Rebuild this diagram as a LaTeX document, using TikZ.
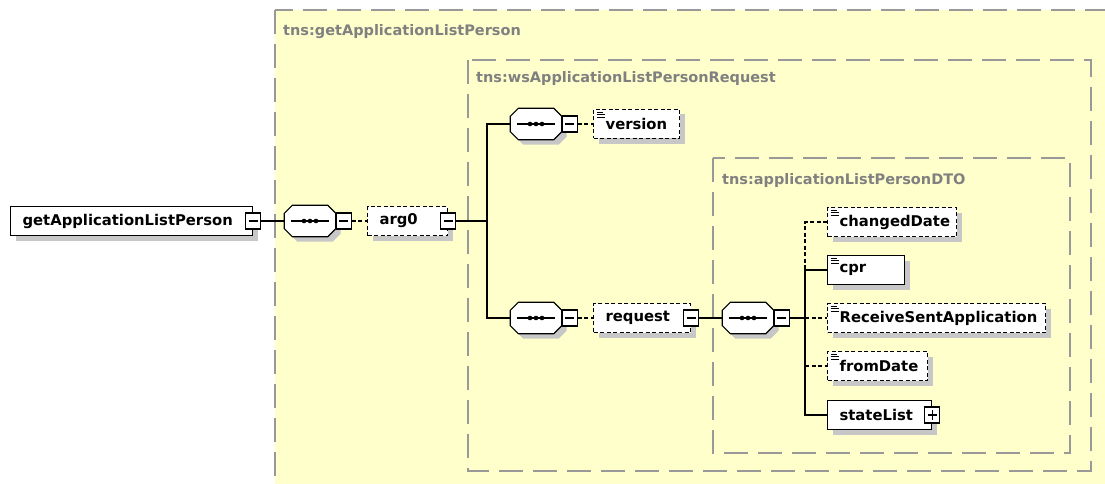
\documentclass[tikz,border=0pt]{standalone}
\usepackage{fontspec}
\newfontfamily\xsdfont{DejaVu Sans}
\usetikzlibrary{positioning,shadows}
\definecolor{xsdbg}{HTML}{FFFFCC}

\begin{document}
\begin{tikzpicture}[
		x=1pt, y=-1pt,
		font=\xsdfont\bfseries\fontsize{14.8}{17}\selectfont,
		conn/.style = {line width=1.2pt},
		opt/.style = {dash pattern=on 4pt off 2.5pt},
		group/.style = {draw=black!40, line width=1.5pt, dash pattern=on 24pt off 10pt},
		grouplabel/.style = {text=black!50, anchor=west, inner sep=0pt, font=\xsdfont\bfseries\fontsize{14.5}{17}\selectfont},
		castshadow/.style = {drop shadow={shadow xshift=5pt, shadow yshift=-5pt, fill=black!22, opacity=1}},
		elem/.style = {draw, fill=white, line width=1.2pt, castshadow, anchor=west,
			minimum height=29pt, inner xsep=12pt, inner ysep=0pt, align=left, text width=#1},
		leaf/.style = {elem=#1, path picture={
			\draw[solid, line width=.8pt] ([shift={(3pt,-2.5pt)}]path picture bounding box.north west) -- +(6pt,0pt);
			\draw[solid, line width=.8pt] ([shift={(3pt,-5pt)}]path picture bounding box.north west) -- +(8pt,0pt);
			\draw[solid, line width=.8pt] ([shift={(3pt,-7.5pt)}]path picture bounding box.north west) -- +(8pt,0pt);}},
		seq/.style = {minimum width=51pt, minimum height=31pt, inner sep=0pt},
		minus/.style = {draw, solid, fill=white, line width=1.2pt, inner sep=0pt, minimum width=15pt, minimum height=16pt,
			path picture={\draw[line width=1.2pt] ([xshift=3pt]path picture bounding box.west) -- ([xshift=-3pt]path picture bounding box.east);}},
		plus/.style = {minus, path picture={
			\draw[line width=1.2pt] ([xshift=3pt]path picture bounding box.west) -- ([xshift=-3pt]path picture bounding box.east);
			\draw[line width=1.2pt] ([yshift=3pt]path picture bounding box.south) -- ([yshift=-3pt]path picture bounding box.north);}}
	]
	\path[use as bounding box, clip] (0,0) rectangle (1105,484);
	% Groups.
	\fill[xsdbg] (275,10) rectangle (1120,500);
	\draw[group] (275,10) rectangle (1120,500);
	\draw[group] (468,60) rectangle (1091,471);
	\draw[group] (713,158) rectangle (1070,453);
	\node[grouplabel] (t1) at (283,32) {tns:getApplicationListPerson};
	\node[grouplabel] (t2) at (476,79) {tns:wsApplicationListPersonRequest};
	\node[grouplabel] (t3) at (722,180) {tns:applicationListPersonDTO};
	% Sequences.
	\node[seq] (sq1) at (310,221) {};
	\node[seq] (sq2) at (536,124) {};
	\node[seq] (sq3) at (536,318) {};
	\node[seq] (sq4) at (748,318) {};
	\foreach \s in {sq1,sq2,sq3,sq4} {
		\fill[black!22, transform canvas={shift={(5pt,-5pt)}}] ([xshift=8pt]\s.north west) -- ([xshift=-8pt]\s.north east)
			-- ([yshift=-8pt]\s.north east) -- ([yshift=8pt]\s.south east) -- ([xshift=-8pt]\s.south east)
			-- ([xshift=8pt]\s.south west) -- ([yshift=8pt]\s.south west) -- ([yshift=-8pt]\s.north west) -- cycle;
		\draw[fill=white, line width=1.2pt] ([xshift=8pt]\s.north west) -- ([xshift=-8pt]\s.north east)
			-- ([yshift=-8pt]\s.north east) -- ([yshift=8pt]\s.south east) -- ([xshift=-8pt]\s.south east)
			-- ([xshift=8pt]\s.south west) -- ([yshift=8pt]\s.south west) -- ([yshift=-8pt]\s.north west) -- cycle;
		\draw[line width=1.2pt] ([xshift=7pt]\s.west) -- ([xshift=-7pt]\s.east);
		\foreach \d in {-6,0,6} \fill ([xshift=\d pt]\s.center) circle (2.3pt);
	}
	\node[minus, right=0pt of sq1] (sq1x) {};
	\node[minus, right=0pt of sq2] (sq2x) {};
	\node[minus, right=0pt of sq3] (sq3x) {};
	\node[minus, right=0pt of sq4] (sq4x) {};
	% Root.
	\node[elem=218pt] (glp) at (10,221) {getApplicationListPerson};
	\node[minus] (glpx) at (glp.east) {};
	\node[elem=56pt, opt] (arg) at (367,221) {arg0};
	\node[minus] (argx) at (arg.east) {};
	\coordinate (j1) at (487,221);
	% Level 1.
	\node[leaf=62pt, opt] (ver) at (593,124) {version};
	\node[elem=73pt, opt] (req) at (593,318) {request};
	\node[minus] (reqx) at (req.east) {};
	% Level 2.
	\coordinate (j2) at (805,318);
	\node[leaf=105pt, opt] (chg) at (827,222) {changedDate};
	\node[leaf=53pt] (cpr) at (827,270) {cpr};
	\node[leaf=194pt, opt] (rsa) at (827,318) {ReceiveSentApplication};
	\node[leaf=76pt, opt] (frm) at (827,366) {fromDate};
	\node[elem=80pt] (stl) at (827,415) {stateList};
	\node[plus] (stlx) at (stl.east) {};

	\draw[conn] (glpx) -- (sq1);
	\draw[conn, opt] (sq1x) -- (arg);
	\draw[conn] (argx) -- (j1);
	\draw[conn] (sq2.west) -| (j1) |- (sq3.west);
	\draw[conn, opt] (sq2x) -- (ver);
	\draw[conn, opt] (sq3x) -- (req);
	\draw[conn] (reqx) -- (sq4);
	\draw[conn] (sq4x) -- (j2);
	\draw[conn, opt] (chg.west) -| (j2 |- cpr.west);
	\draw[conn] (cpr.west) -| (j2) |- (stl.west);
	\draw[conn, opt] (j2) -- (rsa.west);
	\draw[conn, opt] (j2 |- frm.west) -- (frm.west);
\end{tikzpicture}
\end{document}
